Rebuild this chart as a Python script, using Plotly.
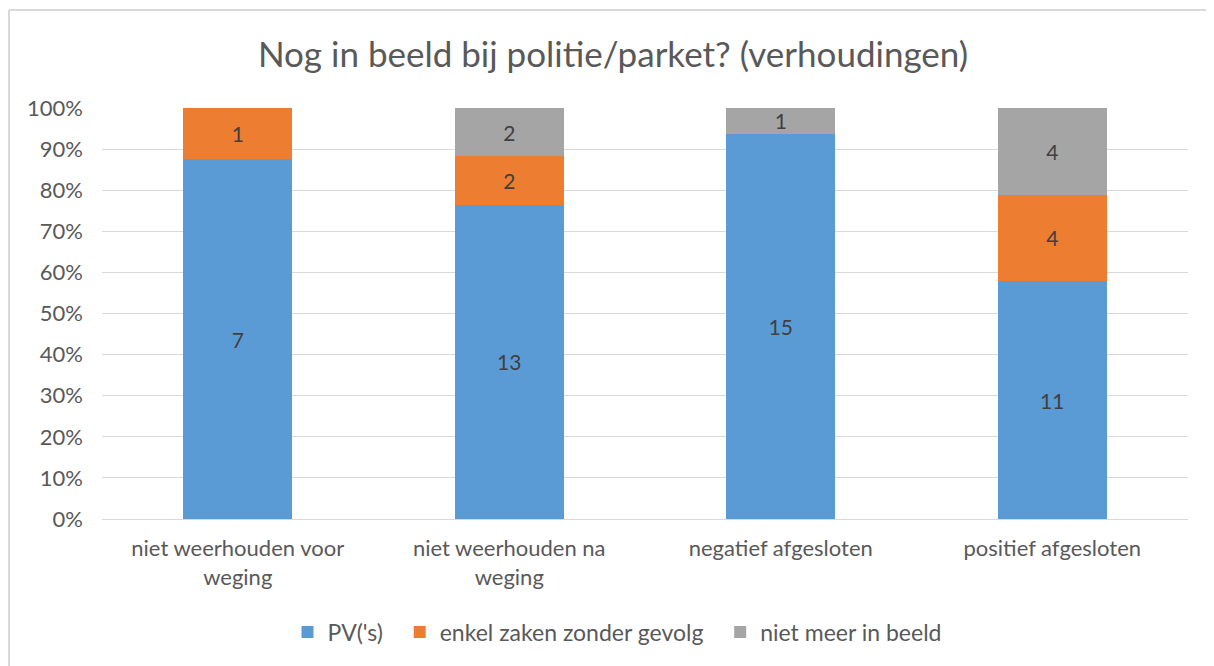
import plotly.graph_objects as go

categories = ["niet weerhouden voor<br>weging", "niet weerhouden na<br>weging",
              "negatief afgesloten", "positief afgesloten"]
series_names = ["PV('s)", "enkel zaken zonder gevolg", "niet meer in beeld"]
pv = [7, 13, 15, 11]
zonder_gevolg = [1, 2, 0, 4]
niet_meer = [0, 2, 1, 4]
colors = ["#5B9BD5", "#ED7D31", "#A5A5A5"]

FONT = "Lato, 'Open Sans', sans-serif"
OFF = 8  # page body margin

fig = go.Figure()
for i, (name, vals, col) in enumerate(zip(series_names, [pv, zonder_gevolg, niet_meer], colors)):
    label = name + ("&#160;&#160;" if i < len(series_names) - 1 else "")
    fig.add_trace(go.Bar(
        x=categories, y=vals, name=label, marker_color=col, marker_line_width=0,
        text=[str(v) if v else "" for v in vals], textposition="inside",
        insidetextanchor="middle", textangle=0, constraintext="none",
        textfont=dict(size=21, color="#404040", family=FONT),
    ))

W, H = 1214, 666
L = 102 - OFF
T = 108 - OFF
R = W - (1188 - OFF)
B = H - (519 - OFF)
pw, ph = W - L - R, H - T - B

def px_x(px):
    return (px - OFF - L) / pw

def px_y(py):
    return (H - B - (py - OFF)) / ph

fig.update_layout(
    barmode="stack", barnorm="percent", bargap=0.6,
    width=W, height=H,
    margin=dict(l=L, r=R, t=T, b=B),
    paper_bgcolor="white", plot_bgcolor="white",
    font=dict(family=FONT, color="#595959", size=21),
    title=dict(text="Nog in beeld bij politie/parket? (verhoudingen)",
               font=dict(size=35, color="#595959", family=FONT),
               x=(613 - OFF) / W, xref="container", xanchor="center",
               y=1 - (55 - OFF) / H, yref="container", yanchor="middle"),
    legend=dict(orientation="h", x=(617 - OFF) / W, xref="container", xanchor="center",
                y=1 - (632 - OFF) / H, yref="container", yanchor="middle",
                font=dict(size=23, color="#595959"), traceorder="normal",
                itemwidth=30),
    xaxis=dict(showline=True, linecolor="#d9d9d9", linewidth=1, ticks="",
               ticklabelstandoff=10,
               tickfont=dict(size=22, color="#595959")),
    yaxis=dict(range=[0, 100], dtick=10, ticksuffix="%", showgrid=True,
               gridcolor="#d9d9d9", gridwidth=1, zeroline=False,
               ticklabelstandoff=18,
               tickfont=dict(size=22, color="#595959")),
    showlegend=True,
    shapes=[
        dict(type="line", xref="paper", yref="paper", x0=px_x(9), x1=px_x(1230),
             y0=px_y(10), y1=px_y(10), line=dict(color="#d9d9d9", width=2)),
        dict(type="line", xref="paper", yref="paper", x0=px_x(9), x1=px_x(9),
             y0=px_y(10), y1=px_y(680), line=dict(color="#d9d9d9", width=2)),
    ],
)

fig.write_html("out.html")
